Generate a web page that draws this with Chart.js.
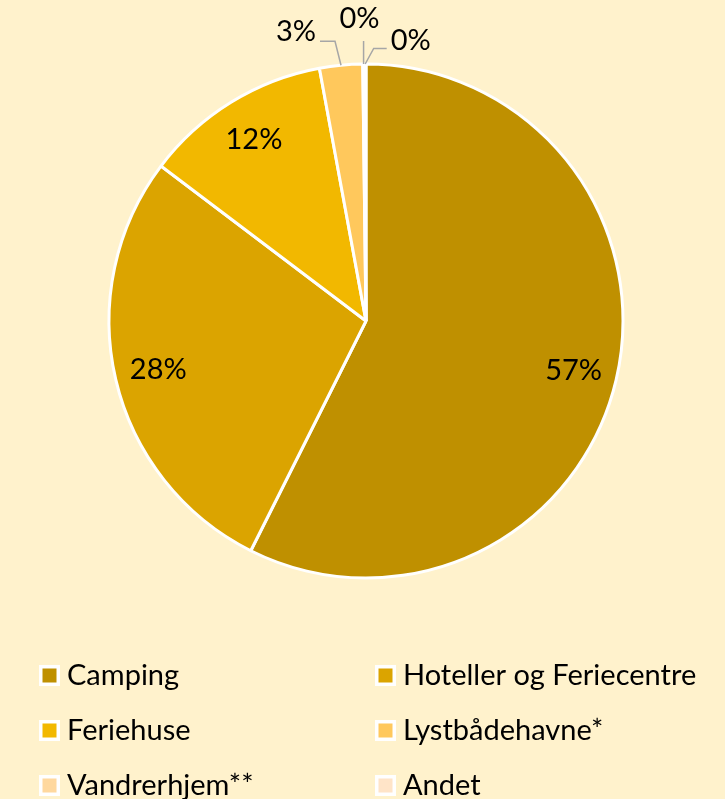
<!DOCTYPE html>
<html>
<head>
<meta charset="utf-8">
<script src="https://cdn.jsdelivr.net/npm/chart.js@4/dist/chart.umd.min.js"></script>
<style>
  html, body { margin: 0; padding: 0; background: #FFF2CC; }
  #wrap { width: 725px; height: 799px; position: relative; }
</style>
</head>
<body>
<div id="wrap"><canvas id="c" width="725" height="799"></canvas></div>
<script>
const categories = ["Camping", "Hoteller og Feriecentre", "Feriehuse", "Lystbådehavne*", "Vandrerhjem**", "Andet"];
const shares = [57.4, 27.9, 11.8, 2.7, 0.1, 0.1];
const sliceColors = ["#BF9000", "#DBA400", "#F2B800", "#FFC85C", "#FFD89E", "#FFE4C8"];

const FONT = "Lato, 'Open Sans', sans-serif";

// per-slice label placement style for small slices (outside with leader line)
const outsideLabelStyle = {
  3: { ex: -6, ey: -24, hx: -15, align: "right", tdx: -4, tdy: -10 },
  4: { ex: 0, ey: -23, hx: 0, align: "center", tdx: -4, tdy: -22 },
  5: { ex: 8.5, ey: -15.5, hx: 13, align: "left", tdx: 4, tdy: -8 }
};

const labelPlugin = {
  id: "pctLabels",
  afterDatasetsDraw(chart) {
    const ctx = chart.ctx;
    const meta = chart.getDatasetMeta(0);
    const data = chart.data.datasets[0].data;
    const total = data.reduce((a, b) => a + b, 0);
    ctx.save();
    ctx.font = "29px " + FONT;
    ctx.fillStyle = "#000";
    meta.data.forEach((arc, i) => {
      const p = arc.getProps(["x", "y", "startAngle", "endAngle", "outerRadius"], true);
      const mid = (p.startAngle + p.endAngle) / 2;
      const txt = Math.round(data[i] / total * 100) + "%";
      const st = outsideLabelStyle[i];
      if (!st) {
        const r = p.outerRadius * 0.83;
        ctx.textAlign = "center";
        ctx.textBaseline = "middle";
        ctx.fillText(txt, p.x + Math.cos(mid) * r, p.y + Math.sin(mid) * r);
      } else {
        const ax = p.x + Math.cos(mid) * p.outerRadius;
        const ay = p.y + Math.sin(mid) * p.outerRadius;
        const bx = ax + st.ex, by = ay + st.ey;
        const cx = bx + st.hx, cy = by;
        ctx.strokeStyle = "#A6A6A6";
        ctx.lineWidth = 1.5;
        ctx.beginPath();
        ctx.moveTo(ax, ay);
        ctx.lineTo(bx, by);
        ctx.lineTo(cx, cy);
        ctx.stroke();
        ctx.textAlign = st.align;
        ctx.textBaseline = "middle";
        ctx.fillText(txt, cx + st.tdx, cy + st.tdy);
      }
    });
    ctx.restore();
  }
};

const legendPlugin = {
  id: "gridLegend",
  afterDraw(chart) {
    const ctx = chart.ctx;
    const labels = chart.data.labels;
    const colors = chart.data.datasets[0].backgroundColor;
    const colX = [39, 375];
    const rowY = [675.5, 730.5, 785.5];
    ctx.save();
    ctx.font = "29px " + FONT;
    ctx.textBaseline = "middle";
    ctx.textAlign = "left";
    labels.forEach((lab, i) => {
      const x = colX[i % 2];
      const y = rowY[Math.floor(i / 2)];
      ctx.fillStyle = "#FFFFFF";
      ctx.fillRect(x, y - 10.5, 21, 21);
      ctx.fillStyle = colors[i];
      ctx.fillRect(x + 3.5, y - 7, 14, 14);
      ctx.fillStyle = "#000";
      ctx.fillText(lab, x + 28, y);
    });
    ctx.restore();
  }
};

new Chart(document.getElementById("c"), {
  type: "pie",
  data: {
    labels: categories,
    datasets: [{
      data: shares,
      backgroundColor: sliceColors,
      borderColor: "#FFFFFF",
      borderWidth: 3
    }]
  },
  options: {
    responsive: false,
    animation: false,
    radius: 257,
    layout: { padding: { left: 106, right: 99, top: 61, bottom: 218 } },
    plugins: { legend: { display: false }, tooltip: { enabled: false } }
  },
  plugins: [labelPlugin, legendPlugin]
});
</script>
</body>
</html>
